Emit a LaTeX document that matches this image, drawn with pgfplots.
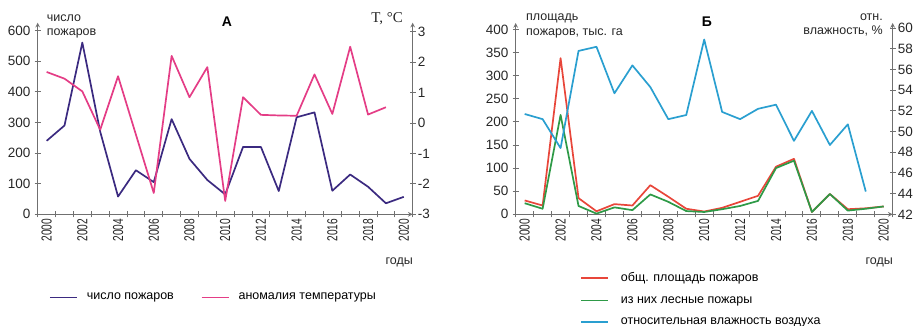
\documentclass[border=0pt]{standalone}
\usepackage{fontspec}
\setmainfont{Liberation Sans}
\newfontfamily\seriffont{Liberation Serif}
\usepackage{pgfplots}
\pgfplotsset{compat=1.18}
\usepackage{graphicx}

\definecolor{cpurple}{HTML}{3B2A80}
\definecolor{cpink}{HTML}{E43D86}
\definecolor{cred}{HTML}{E8463A}
\definecolor{cgreen}{HTML}{2E9A47}
\definecolor{ccyan}{HTML}{2A9FD0}
\definecolor{axgray}{HTML}{707070}

\pgfplotstableread{
year fires
2000 240
2001 290
2002 561
2003 270
2004 58
2005 144
2006 105
2007 311
2008 181
2009 112
2010 65
2011 220
2012 220
2013 76
2014 317
2015 333
2016 77
2017 130
2018 90
2019 36
2020 57
}\tfires

\pgfplotstableread{
year anom
2000 1.68
2001 1.46
2002 1.04
2003 -0.22
2004 1.54
2005 -0.38
2006 -2.30
2007 2.21
2008 0.85
2009 1.84
2010 -2.56
2011 0.85
2012 0.27
2013 0.25
2014 0.24
2015 1.60
2016 0.30
2017 2.51
2018 0.28
2019 0.52
}\tanom

\pgfplotstableread{
year total forest
2000 30 24
2001 19 12
2002 338 215
2003 35 18
2004 6.5 1.5
2005 22 15
2006 19 9
2007 63 43
2008 38 27
2009 12 7
2010 6 5
2011 14 11
2012 27 18
2013 40 29
2014 103 100
2015 120 116
2016 5 5
2017 44 44
2018 11 8
2019 13 12
2020 17 17
}\tarea

\pgfplotstableread{
year hum
2000 51.7
2001 51.2
2002 48.4
2003 57.8
2004 58.2
2005 53.7
2006 56.4
2007 54.3
2008 51.2
2009 51.6
2010 58.9
2011 51.9
2012 51.2
2013 52.2
2014 52.6
2015 49.1
2016 52.0
2017 48.7
2018 50.7
2019 44.2
}\thum

\pgfplotsset{
  base/.style={
    scale only axis,
    xmin=1999.5, xmax=2020.5,
    tick align=outside,
    axis line style={draw=axgray, line width=1.1pt, -},
    every tick/.style={draw=axgray, line width=0.9pt},
    major tick length=6pt, minor tick length=6pt,
    ticklabel style={font=\fontsize{13.5}{15}\selectfont, text=black!85},
    /pgf/number format/assume math mode=true,
    /pgf/number format/1000 sep={},
    clip=false,
  },
  xbase/.style={
    axis x line=bottom, axis y line=left,
    xtick={2000,2002,...,2020},
    xticklabels={\scalebox{0.7}[1]{2000},\scalebox{0.7}[1]{2002},\scalebox{0.7}[1]{2004},\scalebox{0.7}[1]{2006},\scalebox{0.7}[1]{2008},\scalebox{0.7}[1]{2010},\scalebox{0.7}[1]{2012},\scalebox{0.7}[1]{2014},\scalebox{0.7}[1]{2016},\scalebox{0.7}[1]{2018},\scalebox{0.7}[1]{2020}},
    xticklabel style={rotate=90, anchor=east, inner sep=1.5pt, font=\fontsize{14.5}{15}\selectfont},
    minor xtick={1999.5,2000.5,2001.5,2002.5,2003.5,2004.5,2005.5,2006.5,2007.5,2008.5,2009.5,2010.5,2011.5,2012.5,2013.5,2014.5,2015.5,2016.5,2017.5,2018.5,2019.5,2020.5},
    major x tick style={draw=none},
    legend cell align=left,
    legend image code/.code={\draw[#1, line width=1.7pt] (0pt,0pt) -- (27pt,0pt);},
  },
  ybase2/.style={
    axis x line=none, axis y line=right,
    yticklabel style={anchor=west, inner sep=2pt},
  },
  ln/.style={line width=1.7pt, line join=round, no markers},
}

\begin{document}
\fontsize{12.5}{14.5}\selectfont
\begin{tikzpicture}
\useasboundingbox (0pt,0pt) rectangle (919pt,326pt);

% ---------- Panel A ----------
\begin{axis}[base, xbase,
  at={(37.7pt,111.7pt)}, anchor=south west,
  width=375pt, height=191.6pt,
  ymin=0, ymax=626, ytick={0,100,...,600},
  legend style={at={(0.03,-0.434)}, anchor=west, draw=none, fill=none,
    inner sep=0pt, legend columns=2,
    font=\fontsize{12.5}{14.5}\selectfont,
    nodes={inner sep=0pt},
    /tikz/every odd column/.append style={column sep=9pt},
    /tikz/every even column/.append style={column sep=27pt}},
]
\addplot[ln, cpurple] table[x=year, y=fires] {\tfires};
\addlegendentry{число пожаров}
\addlegendimage{ln, cpink}
\addlegendentry{аномалия температуры}
\end{axis}
\begin{axis}[base, ybase2,
  at={(37.7pt,111.7pt)}, anchor=south west,
  width=375pt, height=191.6pt,
  ymin=-3, ymax=3.3, ytick={-3,-2,...,3},
]
\addplot[ln, cpink] table[x=year, y=anom] {\tanom};
\end{axis}

% ---------- Panel B ----------
\begin{axis}[base, xbase,
  at={(515.7pt,111.7pt)}, anchor=south west,
  width=377pt, height=191.3pt,
  ymin=0, ymax=414, ytick={0,50,...,400},
  legend style={at={(0.1706,-0.302)}, anchor=north west, draw=none, fill=none,
    inner sep=0pt, legend columns=1,
    font=\fontsize{12.5}{14.5}\selectfont,
    nodes={inner sep=0pt},
    row sep=13pt,
    /tikz/every odd column/.append style={column sep=12pt}},
]
\addplot[ln, cred] table[x=year, y=total] {\tarea};
\addlegendentry{общ. площадь пожаров}
\addplot[ln, cgreen] table[x=year, y=forest] {\tarea};
\addlegendentry{из них лесные пожары}
\addlegendimage{ln, ccyan}
\addlegendentry{относительная влажность воздуха}
\end{axis}
\begin{axis}[base, ybase2,
  at={(515.7pt,111.7pt)}, anchor=south west,
  width=377pt, height=191.3pt,
  ymin=42, ymax=60.5, ytick={42,44,...,60},
]
\addplot[ln, ccyan] table[x=year, y=hum] {\thum};
\end{axis}

% ---------- Texts ----------
\node[anchor=base west, inner sep=0pt, text=black!85] at (46.7pt,304.8pt) {число};
\node[anchor=base west, inner sep=0pt, text=black!85] at (46.7pt,290.3pt) {пожаров};
\node[inner sep=0pt, font=\fontsize{14}{16}\selectfont\bfseries] at (227pt,304.3pt) {А};
\node[anchor=east, inner sep=0pt, font=\seriffont\fontsize{15}{17}\selectfont, text=black!85] at (403pt,307.7pt) {T, °C};
\node[anchor=base east, inner sep=0pt, text=black!85] at (413pt,61pt) {годы};

\node[anchor=base west, inner sep=0pt, text=black!85] at (526pt,305pt) {площадь};
\node[anchor=base west, inner sep=0pt, text=black!85] at (526pt,290.5pt) {пожаров, тыс. га};
\node[inner sep=0pt, font=\fontsize{14}{16}\selectfont\bfseries] at (707pt,304.3pt) {Б};
\node[anchor=base east, inner sep=0pt, text=black!85] at (883pt,305.5pt) {отн.};
\node[anchor=base east, inner sep=0pt, text=black!85] at (883pt,291pt) {влажность, \%};
\node[anchor=base east, inner sep=0pt, text=black!85] at (893pt,61pt) {годы};
\end{tikzpicture}
\end{document}
